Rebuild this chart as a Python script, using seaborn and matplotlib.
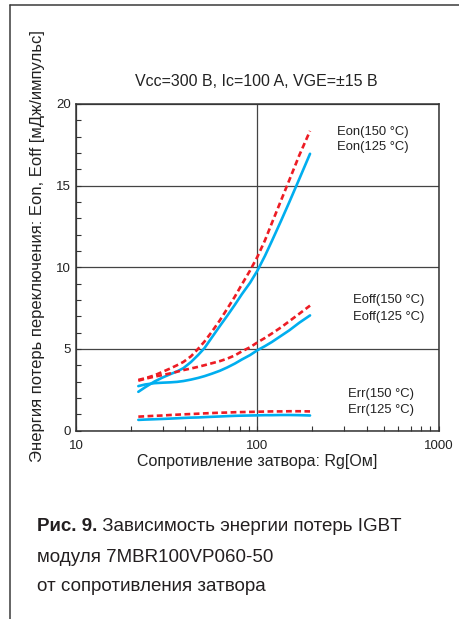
import numpy as np
import pandas as pd
import matplotlib
matplotlib.use("Agg")
import matplotlib.pyplot as plt
from matplotlib import font_manager
from matplotlib.lines import Line2D
from matplotlib.ticker import FixedLocator, NullFormatter
import seaborn as sns

# Gate resistance, Ohm
rg = [22, 24, 27, 30, 33, 36, 39, 43, 47, 51, 56, 62, 68, 75, 82, 91,
      100, 110, 120, 135, 150, 170, 195]

# Switching energies, mJ/pulse
eon_150 = [3.1, 3.2, 3.38, 3.6, 3.8, 4.0, 4.2, 4.55, 5.0, 5.45, 6.05, 6.75,
           7.45, 8.2, 8.95, 9.8, 10.65, 11.65, 12.7, 14.1, 15.35, 16.85, 18.35]
eon_125 = [2.37, 2.65, 3.0, 3.25, 3.45, 3.62, 3.82, 4.2, 4.62, 5.05, 5.7, 6.4,
           7.02, 7.7, 8.35, 9.05, 9.8, 10.7, 11.6, 12.85, 14.0, 15.4, 16.95]
eoff_150 = [3.05, 3.17, 3.3, 3.4, 3.5, 3.6, 3.7, 3.8, 3.9, 4.0, 4.12, 4.25,
            4.4, 4.6, 4.85, 5.1, 5.4, 5.67, 5.94, 6.32, 6.7, 7.15, 7.65]
eoff_125 = [2.72, 2.82, 2.9, 2.93, 2.95, 2.98, 3.03, 3.12, 3.22, 3.33, 3.48, 3.66,
            3.86, 4.1, 4.35, 4.62, 4.92, 5.17, 5.42, 5.8, 6.14, 6.6, 7.05]
err_150 = [0.85, 0.87, 0.9, 0.92, 0.95, 0.97, 0.99, 1.01, 1.03, 1.05, 1.07, 1.09,
           1.1, 1.12, 1.13, 1.14, 1.15, 1.16, 1.17, 1.17, 1.18, 1.18, 1.17]
err_125 = [0.65, 0.67, 0.69, 0.71, 0.73, 0.75, 0.77, 0.79, 0.8, 0.82, 0.84, 0.86,
           0.88, 0.9, 0.91, 0.92, 0.93, 0.94, 0.94, 0.95, 0.95, 0.94, 0.92]

x_ticks = [10, 100, 1000]
y_ticks = [0, 5, 10, 15, 20]

title = "Vcc=300 B, Ic=100 A, VGE=±15 B"
x_label = "Сопротивление затвора: Rg[Ом]"
y_label = "Энергия потерь переключения: Eon, Eoff [мДж/импульс]"
caption_bold = "Рис. 9."
caption_lines = [" Зависимость энергии потерь IGBT",
                 "модуля 7MBR100VP060-50",
                 "от сопротивления затвора"]

CYAN = "#00aeef"
RED = "#ed1c24"

sns.set_style("white")
plt.rcParams["font.family"] = ["Liberation Sans", "DejaVu Sans"]

installed = {f.name for f in font_manager.fontManager.ttflist}
cap_family = "Liberation Sans Narrow" if "Liberation Sans Narrow" in installed else "Liberation Sans"

n = len(rg)
df = pd.DataFrame({
    "Rg": rg * 6,
    "E": eon_150 + eon_125 + eoff_150 + eoff_125 + err_150 + err_125,
    "curve": (["Eon150"] * n + ["Eon125"] * n + ["Eoff150"] * n
              + ["Eoff125"] * n + ["Err150"] * n + ["Err125"] * n),
})

fig = plt.figure(figsize=(4.59, 6.19), dpi=100)
ax = fig.add_axes([0.1662, 0.3045, 0.7895, 0.5275])

for name, sub in df.groupby("curve", sort=False):
    hot = name.endswith("150")
    sns.lineplot(data=sub, x="Rg", y="E", ax=ax, color=RED if hot else CYAN,
                 linewidth=1.9, estimator=None, legend=False,
                 dashes=False, zorder=4 if hot else 3,
                 linestyle=(0, (2.2, 1.3)) if hot else "-")

ax.set_xscale("log")
ax.set_xlim(10, 1000)
ax.set_ylim(0, 20)
ax.xaxis.set_major_locator(FixedLocator(x_ticks))
ax.set_xticklabels([str(v) for v in x_ticks])
ax.xaxis.set_minor_locator(FixedLocator([m * d for d in (10, 100) for m in range(2, 10)]))
ax.xaxis.set_minor_formatter(NullFormatter())
ax.yaxis.set_major_locator(FixedLocator(y_ticks))
ax.set_yticklabels([str(v) for v in y_ticks])
ax.yaxis.set_minor_locator(FixedLocator([v for v in range(1, 20) if v % 5]))

ax.tick_params(axis="both", which="both", direction="in", length=3.8, width=0.8,
               color="#333333", labelsize=9.5, labelcolor="#222222")
ax.tick_params(axis="x", which="both", pad=7, top=False, bottom=True)
ax.tick_params(axis="y", which="both", pad=4, left=True, right=False)

ax.grid(True, which="major", color="#444444", linewidth=0.9)
ax.set_axisbelow(True)
for sp in ax.spines.values():
    sp.set_color("#333333")
    sp.set_linewidth(1.1)

ax.set_xlabel(x_label, fontsize=11.5, color="#222222", labelpad=1)
ax.set_ylabel("")
fig.text(0.081, 0.603, y_label, rotation=90, fontsize=12, color="#222222",
         ha="center", va="center")
fig.text(0.559, 0.868, title, fontsize=11.5, color="#222222", ha="center", va="center")

ann = dict(fontsize=9.4, color="#222222", ha="left", va="center")
ax.text(275, 18.3, "Eon(150 °C)", **ann)
ax.text(275, 17.37, "Eon(125 °C)", **ann)
ax.text(336, 7.97, "Eoff(150 °C)", **ann)
ax.text(336, 6.95, "Eoff(125 °C)", **ann)
ax.text(316, 2.23, "Err(150 °C)", **ann)
ax.text(316, 1.25, "Err(125 °C)", **ann)

# Caption under the chart
cap_size = 13.5
t = fig.text(0.080, 0.149, caption_bold, fontsize=cap_size, fontweight="bold",
             family=cap_family, color="#231f20", ha="left", va="center")
fig.canvas.draw()
bb = t.get_window_extent()
fig.text(bb.x1 / fig.bbox.width, 0.149, caption_lines[0], fontsize=cap_size,
         family=cap_family, color="#231f20", ha="left", va="center")
fig.text(0.080, 0.099, caption_lines[1], fontsize=cap_size, family=cap_family,
         color="#231f20", ha="left", va="center")
fig.text(0.080, 0.053, caption_lines[2], fontsize=cap_size, family=cap_family,
         color="#231f20", ha="left", va="center")

# Page frame
fig.add_artist(Line2D([0.0218, 0.0218], [0.0, 0.992], transform=fig.transFigure,
                      color="#3a3a3a", linewidth=1.1))
fig.add_artist(Line2D([0.0218, 1.0], [0.992, 0.992], transform=fig.transFigure,
                      color="#3a3a3a", linewidth=1.1))

fig.savefig("out.png", dpi=100)
